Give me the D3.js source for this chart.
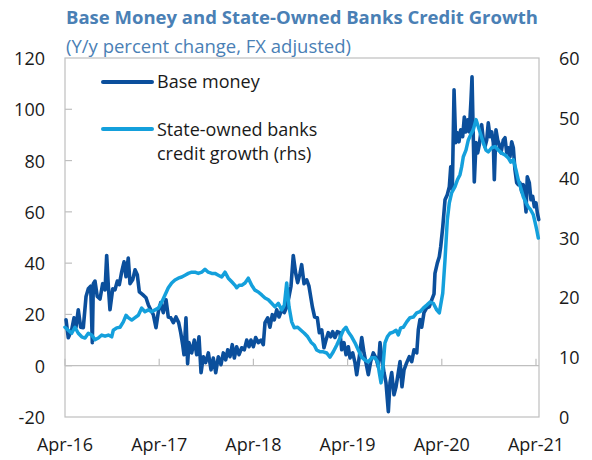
<!DOCTYPE html>
<html>
<head>
<meta charset="utf-8">
<script src="https://cdn.jsdelivr.net/npm/d3@7"></script>
<style>
  body { margin: 0; background: #fff; }
  text { font-family: "Open Sans", "Noto Sans", sans-serif; }
</style>
</head>
<body>
<div id="chart"></div>
<script>
// months since Apr-2016 for each reading
const bmMonths = [0.13,0.42,0.85,1.15,1.40,1.69,2.00,2.33,2.68,2.97,3.27,3.48,3.61,3.82,4.11,4.46,4.80,5.10,5.31,5.52,
  5.73,6.08,6.37,6.66,6.92,7.22,7.52,7.77,8.06,8.28,8.62,8.92,9.21,9.47,9.90,10.32,10.61,10.92,11.25,11.59,
  11.89,12.19,12.52,12.87,13.16,13.47,13.80,14.14,14.48,14.74,14.99,15.16,15.41,15.62,15.80,16.14,16.47,16.78,17.07,17.33,
  17.62,17.92,18.26,18.60,18.89,19.20,19.53,19.87,20.17,20.47,20.73,21.02,21.31,21.57,21.87,22.17,22.51,22.84,23.15,23.44,
  23.69,23.99,24.29,24.62,24.97,25.26,25.48,25.82,26.11,26.41,26.66,26.97,27.26,27.61,27.94,28.24,28.54,28.79,29.08,29.39,
  29.64,29.94,30.15,30.45,30.79,31.08,31.51,31.80,32.14,32.40,32.70,32.99,33.25,33.54,33.85,34.10,34.39,34.69,35.03,35.25,
  35.54,35.80,36.09,36.31,36.65,36.94,37.16,37.49,37.80,38.09,38.34,38.64,38.94,39.27,39.62,39.91,40.13,40.35,40.64,40.89,
  41.19,41.40,41.62,41.91,42.17,42.46,42.68,42.93,43.19,43.53,43.86,44.17,44.46,44.81,45.01,45.22,45.44,45.73,46.08,46.41,
  46.72,47.01,47.13,47.43,47.68,47.86,48.12,48.41,48.70,48.96,49.14,49.34,49.56,49.77,49.98,50.19,50.41,50.66,50.87,51.08,
  51.30,51.50,51.72,51.85,52.01,52.14,52.36,52.57,52.78,53.08,53.29,53.50,53.72,53.92,54.14,54.36,54.56,54.69,54.90,55.12,
  55.32,55.54,55.83,56.05,56.27,56.47,56.69,56.90,57.11,57.32,57.54,57.75,57.96,58.18,58.38,58.60,58.73,58.89,59.15,59.36,
  59.58,59.79,60.00,60.17,60.35];
const bmValues = [17.9,10.9,14,18.7,15,21.8,15,14.8,27,30,31,9,32,33,27,26,32,29.6,43,31,
  21.8,30,29.6,33,31.6,36.6,40.5,34.7,42,32,33.5,37.4,35.5,28.8,27.7,26.5,23.8,21.8,19.9,14.8,
  21,24.6,20.7,25.7,19,18.7,16.8,19,16.8,12.9,8.2,4.3,18.7,0.8,9,5,10,4.3,11.3,-2.7,
  3.5,1.2,5,-1.6,3,-2.7,3.5,0.4,5,2.3,6.2,3.5,8.2,3,7.4,4.3,7,6.2,10,7.4,
  10,7.4,11,9,10,8.2,16.8,18.7,15,19.9,17.9,21.8,19,21.8,20.7,23,27,31,43,36,
  32.4,36,39.4,32,33.5,31,23,19,18.7,12.9,14,7,10,12.9,11.3,13.3,11,13.3,12.9,6.2,
  9,4.3,7.4,3,5,1.2,-3.5,3.5,11,5,1.2,-3.5,1.6,5,3,-0.4,9,3.5,-2.7,-6.6,
  -17.9,-6.6,-2.7,-11.3,-8.2,-2.7,1.6,-8.2,-1.6,1.2,3.5,1.6,6.2,5,14,18,15,20.7,22.6,23,
  25.7,28,36,40,42.5,46.4,54,64.7,66.7,69.8,77.6,68.6,107.6,87,90.8,87.3,92,89.3,97,91.2,
  95.9,91.2,103.7,112.7,89.3,71.7,87,83,86.2,94,88,85.4,88,94.7,89.3,91.2,87,72.5,92,88,
  86.2,83,88,88.9,83,85,81.5,87.3,85,76.4,71.3,70.6,71.3,67.8,70.6,64.7,60,73.7,71.3,64.7,
  66,62,63.5,59.6,57];

const scMonths = [0,0.42,0.85,1.27,1.69,2.13,2.55,2.97,3.40,3.82,4.24,4.68,5.10,5.52,5.95,6.15,6.59,7.01,7.43,7.77,
  8.06,8.50,8.92,9.34,9.77,10.19,10.61,11.04,11.47,11.89,12.32,12.74,13.16,13.59,14.01,14.43,14.87,15.29,15.71,16.14,
  16.56,16.98,17.41,17.83,18.25,18.69,19.11,19.53,19.96,20.38,20.80,21.24,21.66,21.87,22.17,22.51,22.93,23.35,23.78,24.20,
  24.62,25.06,25.48,25.90,26.33,26.75,27.17,27.61,27.94,28.24,28.54,28.88,29.21,29.64,30.06,30.49,30.92,31.34,31.76,32.06,
  32.48,32.90,33.34,33.76,34.18,34.61,35.03,35.45,35.80,36.09,36.52,36.94,37.36,37.80,38.22,38.64,39.07,39.49,39.84,40.04,
  40.26,40.47,40.76,41.06,41.40,41.82,42.17,42.46,42.76,43.10,43.53,43.95,44.37,44.80,45.22,45.64,46.08,46.50,46.92,47.35,
  47.68,48.12,48.41,48.70,48.96,49.26,49.68,49.98,50.32,50.53,50.74,51.08,51.38,51.68,52.01,52.36,52.65,52.96,53.29,53.63,
  53.92,54.36,54.78,55.20,55.63,56.05,56.47,56.78,57.11,57.45,57.75,58.05,58.38,58.73,59.02,59.33,59.66,59.87,60.09,60.30];
const scValues = [15,14.5,14,15,14,13.4,13.2,14,13.7,12.9,13.2,13.7,13.5,13.7,13.4,14.5,14.9,15,15.9,17,
  16.6,16.2,16.6,17,18.2,17.6,17.9,17.6,17.9,18.2,19.2,20.4,21.6,22.4,22.9,23.2,23.4,23.7,24,24.2,
  24.2,24,24.2,24.7,24.2,24,24,23.7,23.4,24.2,23.2,22.6,22,21.6,22,22,22.4,23.2,22,21.2,
  20.9,20.4,19.9,19.6,19,18.4,19,17.9,18.7,22.4,18.4,15.9,14.9,15,14.5,14,13.4,12.5,12,11.2,
  10.9,10.9,10.7,10,10.9,12,13.2,14.5,15,14.2,13.4,12.4,11.2,10,9.5,9.2,9.9,9.9,9.2,7.4,
  5.7,7.9,12.4,13.4,14,14.2,14.5,13.7,14.9,15,15.9,16.6,16.7,17.4,17.6,18.2,18.7,19.2,19,17.9,
  17.4,20.7,26.3,32.9,35.8,37.5,38.5,39.6,40.5,41.8,43.5,44.6,46.3,47.2,48,49.7,48.5,47.2,45.8,44.6,
  44.3,45,45.2,44.6,44.1,43.8,43.3,42.6,43,41.3,39.6,38.3,36.8,35.8,35.1,34.6,33.8,32.6,31.3,29.9];

const xTickMonths = [0, 12, 24, 36, 48, 60];
const xTickLabels = ["Apr-16", "Apr-17", "Apr-18", "Apr-19", "Apr-20", "Apr-21"];
const leftTicks = [-20, 0, 20, 40, 60, 80, 100, 120];
const rightTicks = [0, 10, 20, 30, 40, 50, 60];

const darkBlue = "#0b4f9c";
const lightBlue = "#14a0dc";
const titleBlue = "#4a80b5";
const gridGrey = "#bfbfbf";

const W = 592, H = 460;
const plot = { left: 65, right: 539, top: 58, bottom: 417 };

const svg = d3.select("#chart").append("svg")
    .attr("width", W)
    .attr("height", H);

// scales
const x = d3.scaleLinear().domain([0, 60]).range([65, 536]);
const yL = d3.scaleLinear().domain([-20, 120]).range([plot.bottom, plot.top]);
const yR = d3.scaleLinear().domain([0, 60]).range([plot.bottom, plot.top]);

// title
svg.append("text")
    .attr("x", 66).attr("y", 24)
    .style("font-size", "18.5px").style("font-weight", "bold")
    .attr("fill", titleBlue)
    .text("Base Money and State-Owned Banks Credit Growth");
svg.append("text")
    .attr("x", 66).attr("y", 53)
    .style("font-size", "18.5px")
    .attr("fill", titleBlue)
    .text("(Y/y percent change, FX adjusted)");

// plot frame
svg.append("rect")
    .attr("x", plot.left).attr("y", plot.top)
    .attr("width", plot.right - plot.left)
    .attr("height", plot.bottom - plot.top)
    .attr("fill", "none")
    .attr("stroke", gridGrey)
    .attr("stroke-width", 1.2);

// zero line with upward ticks
svg.append("line")
    .attr("x1", plot.left).attr("x2", plot.right)
    .attr("y1", yL(0)).attr("y2", yL(0))
    .attr("stroke", gridGrey).attr("stroke-width", 1.2);
svg.append("g").selectAll("line")
    .data(xTickMonths)
    .enter().append("line")
    .attr("x1", d => x(d)).attr("x2", d => x(d))
    .attr("y1", yL(0)).attr("y2", yL(0) - 7)
    .attr("stroke", gridGrey).attr("stroke-width", 1.2);

// left axis (inside ticks)
svg.append("g").selectAll("line")
    .data(leftTicks.filter(d => d > -20 && d < 120))
    .enter().append("line")
    .attr("x1", plot.left).attr("x2", plot.left + 7)
    .attr("y1", d => yL(d)).attr("y2", d => yL(d))
    .attr("stroke", gridGrey).attr("stroke-width", 1.2);
svg.append("g").selectAll("text")
    .data(leftTicks)
    .enter().append("text")
    .attr("x", 45)
    .attr("y", d => yL(d) + 7)
    .attr("text-anchor", "end")
    .style("font-size", "18px")
    .attr("fill", "#1a1a1a")
    .text(d => d);

// right axis labels
svg.append("g").selectAll("text")
    .data(rightTicks)
    .enter().append("text")
    .attr("x", 559)
    .attr("y", d => yR(d) + 7)
    .style("font-size", "18px")
    .attr("fill", "#1a1a1a")
    .text(d => d);

// x labels
svg.append("g").selectAll("text")
    .data(xTickLabels)
    .enter().append("text")
    .attr("x", (d, i) => x(xTickMonths[i]))
    .attr("y", 451)
    .attr("text-anchor", "middle")
    .style("font-size", "18px")
    .attr("fill", "#1a1a1a")
    .text(d => d);

// lines
const bmLine = d3.line()
    .x((d, i) => x(bmMonths[i]))
    .y(d => yL(d));
const scLine = d3.line()
    .x((d, i) => x(scMonths[i]))
    .y(d => yR(d));

svg.append("path")
    .datum(bmValues)
    .attr("d", bmLine)
    .attr("fill", "none")
    .attr("stroke", darkBlue)
    .attr("stroke-width", 3.6)
    .attr("stroke-linejoin", "round")
    .attr("stroke-linecap", "round");

svg.append("path")
    .datum(scValues)
    .attr("d", scLine)
    .attr("fill", "none")
    .attr("stroke", lightBlue)
    .attr("stroke-width", 3.5)
    .attr("stroke-linejoin", "round")
    .attr("stroke-linecap", "round");

// legend
const legend = svg.append("g");
legend.append("line")
    .attr("x1", 103).attr("x2", 152).attr("y1", 82).attr("y2", 82)
    .attr("stroke", darkBlue).attr("stroke-width", 4).attr("stroke-linecap", "round");
legend.append("text")
    .attr("x", 157).attr("y", 88)
    .style("font-size", "18px").attr("fill", "#1a1a1a")
    .text("Base money");
legend.append("line")
    .attr("x1", 103).attr("x2", 152).attr("y1", 129).attr("y2", 129)
    .attr("stroke", lightBlue).attr("stroke-width", 4).attr("stroke-linecap", "round");
legend.append("text")
    .attr("x", 157).attr("y", 136)
    .style("font-size", "18px").attr("fill", "#1a1a1a")
    .text("State-owned banks");
legend.append("text")
    .attr("x", 157).attr("y", 160)
    .style("font-size", "18px").attr("fill", "#1a1a1a")
    .text("credit growth (rhs)");
</script>
</body>
</html>
